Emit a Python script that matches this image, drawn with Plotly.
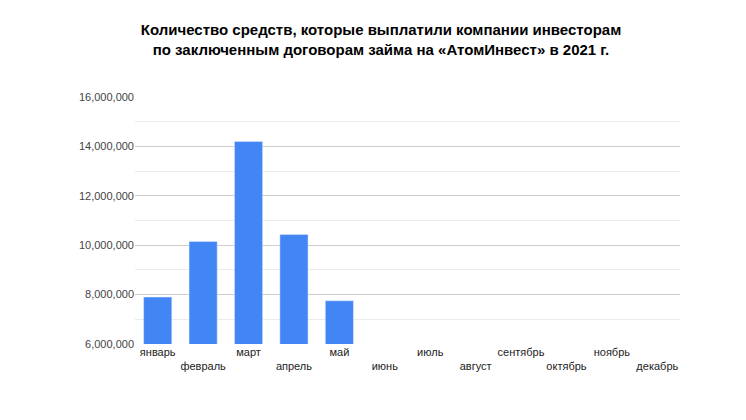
import plotly.graph_objects as go

months = ["январь","февраль","март","апрель","май","июнь","июль","август","сентябрь","октябрь","ноябрь","декабрь"]
values = [7900000, 10150000, 14200000, 10430000, 7750000, None, None, None, None, None, None, None]
tick_vals = [6000000, 8000000, 10000000, 12000000, 14000000, 16000000]
tick_text = ["6,000,000","8,000,000","10,000,000","12,000,000","14,000,000","16,000,000"]

labels = [m if i % 2 == 0 else "<br>" + m for i, m in enumerate(months)]

fig = go.Figure(go.Bar(x=months, y=values, marker_color="#4285F4"))
fig.update_layout(
    width=746, height=420, plot_bgcolor="white", paper_bgcolor="white",
    margin=dict(l=127, r=74, t=89, b=84),
    font=dict(family="Liberation Sans, Arial", size=12, color="#222"),
    title=dict(text="<b>Количество средств, которые выплатили компании инвесторам<br>по заключенным договорам займа на «АтомИнвест» в 2021 г.</b>",
               x=0.5, xanchor="center", y=0.935, yanchor="top", font=dict(size=15, color="#000")),
    bargap=0.38, showlegend=False,
)
fig.update_xaxes(tickvals=months, ticktext=labels, tickangle=0, showline=False, ticks="",
                 tickfont=dict(size=11, color="#222"))
fig.update_yaxes(range=[6000000, 16000000], tickvals=tick_vals, ticktext=tick_text,
                 gridcolor="#cccccc", zeroline=False, tickfont=dict(size=11, color="#444"),
                 minor=dict(dtick=1000000, gridcolor="#ebebeb", showgrid=True))
fig.write_html("out.html")
